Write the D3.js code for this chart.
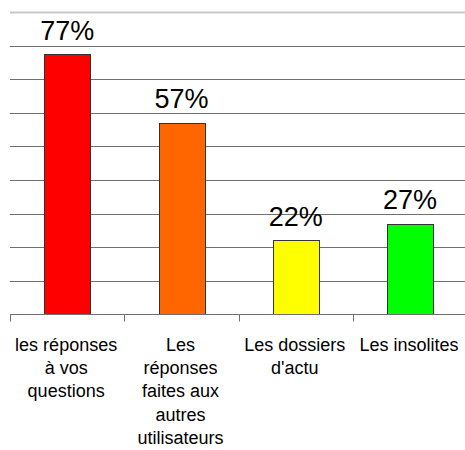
<!DOCTYPE html>
<html>
<head>
<meta charset="utf-8">
<script src="https://cdn.jsdelivr.net/npm/d3@7"></script>
<style>
  html, body { margin: 0; padding: 0; background: #fff; }
  svg { display: block; }
  text { font-family: "Liberation Sans", Arial, sans-serif; fill: #000; }
</style>
</head>
<body>
<div id="chart"></div>
<script>
const categories = ["les réponses\nà vos\nquestions", "Les\nréponses\nfaites aux\nautres\nutilisateurs", "Les dossiers\nd'actu", "Les insolites"];
const values = [0.774, 0.57, 0.22, 0.27];
const valueLabels = ["77%", "57%", "22%", "27%"];
const colors = ["#ff0000", "#ff6600", "#ffff00", "#00ff00"];
const gridTicks = [0.1, 0.2, 0.3, 0.4, 0.5, 0.6, 0.7, 0.8];
const yMax = 0.9;

const W = 465, H = 450;
const svg = d3.select("#chart").append("svg").attr("width", W).attr("height", H);

const x = d3.scaleBand().domain(categories).range([10, 467.2]).padding(0);
const y = d3.scaleLinear().domain([0, yMax]).range([314.3, 12]);
const barW = x.bandwidth() * 0.4;

// top border line
svg.append("line")
  .attr("x1", 10).attr("x2", W)
  .attr("y1", Math.round(y(yMax)) + 0.5).attr("y2", Math.round(y(yMax)) + 0.5)
  .attr("stroke", "#c8c8c8").attr("stroke-width", 2);

// gridlines
svg.append("g").selectAll("line").data(gridTicks).join("line")
  .attr("x1", 10).attr("x2", W)
  .attr("y1", d => Math.round(y(d)) + 0.5).attr("y2", d => Math.round(y(d)) + 0.5)
  .attr("stroke", "#707070").attr("stroke-width", 1);

// bars
svg.append("g").selectAll("rect").data(values).join("rect")
  .attr("x", (d, i) => Math.round(x(categories[i]) + (x.bandwidth() - barW) / 2) + 0.5)
  .attr("y", d => Math.round(y(d)) + 0.5)
  .attr("width", Math.round(barW))
  .attr("height", d => Math.round(y(0)) - Math.round(y(d)))
  .attr("fill", (d, i) => colors[i])
  .attr("stroke", "#333")
  .attr("stroke-width", 1);

// baseline axis
const base = Math.round(y(0)) + 0.5;
svg.append("line")
  .attr("x1", 10).attr("x2", W).attr("y1", base).attr("y2", base)
  .attr("stroke", "#707070");
svg.append("g").selectAll("line").data(categories).join("line")
  .attr("x1", d => Math.round(x(d)) + 0.5).attr("x2", d => Math.round(x(d)) + 0.5)
  .attr("y1", base).attr("y2", base + 7)
  .attr("stroke", "#707070");

// value labels
svg.append("g").selectAll("text").data(values).join("text")
  .attr("x", (d, i) => x(categories[i]) + x.bandwidth() / 2)
  .attr("y", d => y(d) - 14.5)
  .attr("text-anchor", "middle")
  .attr("font-size", "27px")
  .text((d, i) => valueLabels[i]);

// category labels
const cat = svg.append("g").selectAll("text").data(categories).join("text")
  .attr("text-anchor", "middle")
  .attr("font-size", "18px")
  .attr("y", 350.7);
cat.each(function(d) {
  const t = d3.select(this);
  const cx = x(d) + x.bandwidth() / 2 - 1;
  d.split("\n").forEach((line, j) => {
    t.append("tspan").attr("x", cx).attr("y", 350.7 + j * 23.3).text(line);
  });
});
</script>
</body>
</html>
